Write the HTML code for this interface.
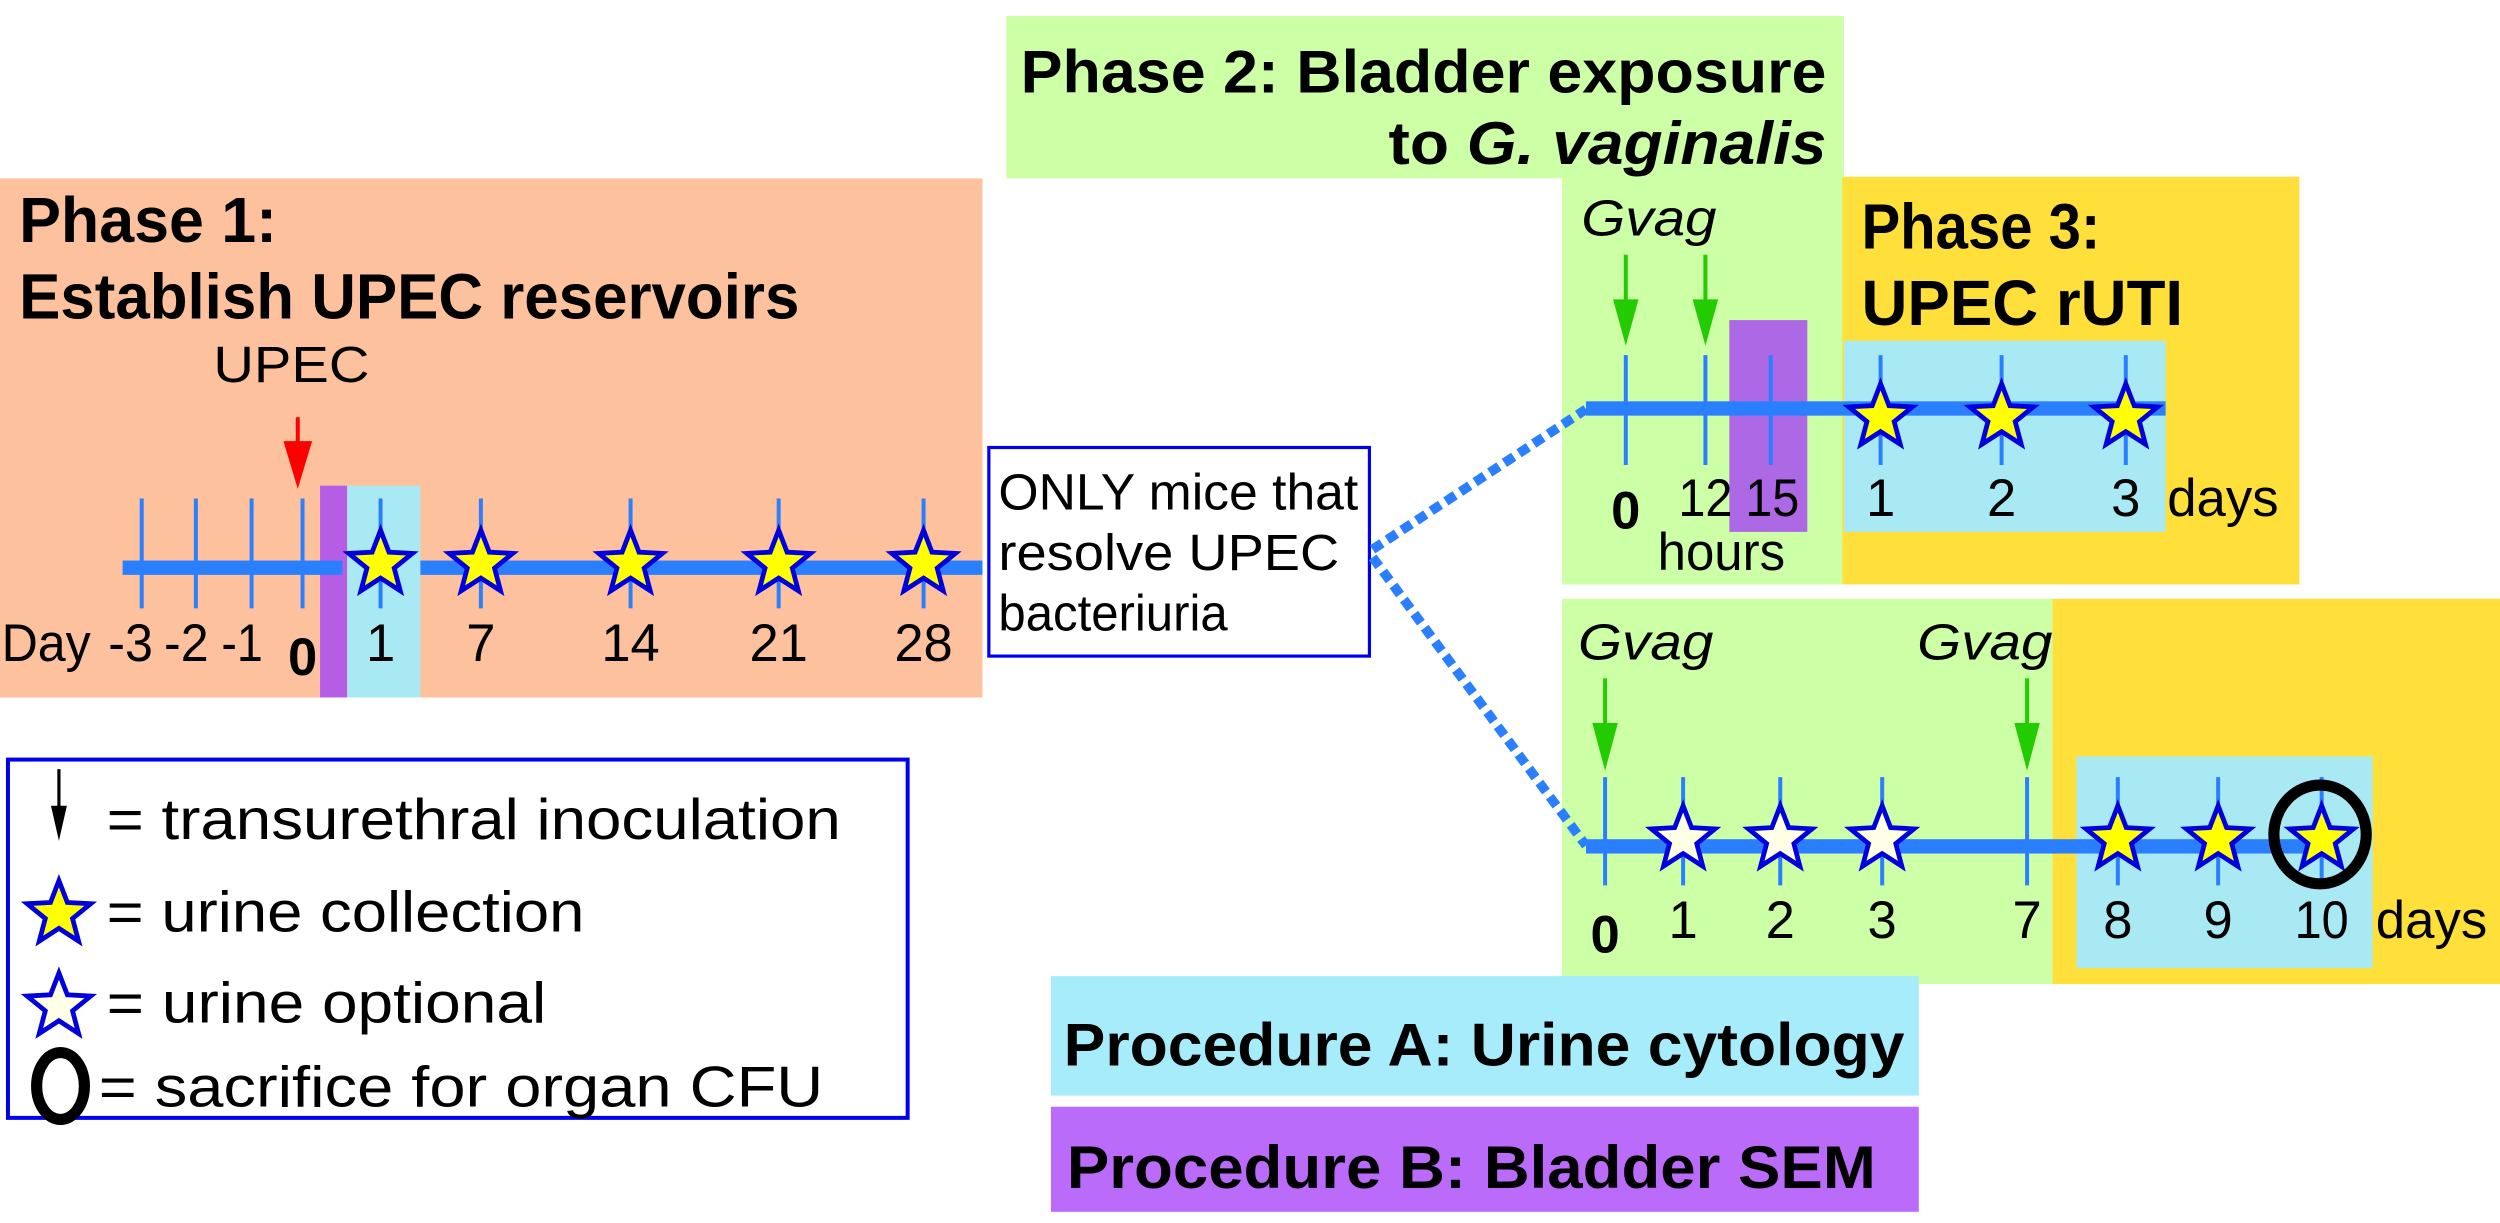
<!DOCTYPE html>
<html><head><meta charset="utf-8"><style>
html,body{margin:0;padding:0;background:#fff}
svg{display:block}
text{font-family:"Liberation Sans",Arial,sans-serif;fill:#000}
.b{font-weight:bold}
</style></head><body>
<svg width="2500" height="1223" viewBox="0 0 1570 768" xmlns="http://www.w3.org/2000/svg">
<defs>
<path id="st" d="M0,-21 L5.29,-7.28 L19.97,-6.49 L8.56,2.78 L12.34,16.99 L0,9 L-12.34,16.99 L-8.56,2.78 L-19.97,-6.49 L-5.29,-7.28Z"/>
</defs>
<!-- Phase 1 -->
<rect x="0" y="112" width="617" height="326" fill="#FEC19D"/>
<text x="12" y="152" class="b" font-size="40" textLength="162" lengthAdjust="spacingAndGlyphs">Phase 1:</text>
<text x="12" y="200" class="b" font-size="40" textLength="490" lengthAdjust="spacingAndGlyphs">Establish UPEC reservoirs</text>
<text x="183" y="240" font-size="32" text-anchor="middle" textLength="98" lengthAdjust="spacingAndGlyphs">UPEC</text>
<line x1="187" y1="262" x2="187" y2="285" stroke="#f00" stroke-width="2.5"/>
<polygon points="178,277 196,277 187,307" fill="#f00"/>
<rect x="201" y="305" width="17" height="133" fill="#B65DE6"/>
<rect x="218" y="305" width="46" height="133" fill="#A8E9F3"/>
<g stroke="#2a7fff" stroke-width="2.5">
<line x1="89" y1="313" x2="89" y2="382"/><line x1="123" y1="313" x2="123" y2="382"/><line x1="158" y1="313" x2="158" y2="382"/><line x1="190" y1="313" x2="190" y2="382"/>
<line x1="239" y1="313" x2="239" y2="382"/><line x1="302" y1="313" x2="302" y2="382"/><line x1="396" y1="313" x2="396" y2="382"/><line x1="489" y1="313" x2="489" y2="382"/><line x1="580" y1="313" x2="580" y2="382"/>
</g>
<rect x="77" y="352" width="138" height="9" fill="#2a7fff"/>
<rect x="264" y="352" width="353" height="9" fill="#2a7fff"/>
<g fill="#ffff00" stroke="#0000dd" stroke-width="3">
<use href="#st" x="239" y="354"/><use href="#st" x="302" y="354"/><use href="#st" x="396" y="354"/><use href="#st" x="489" y="354"/><use href="#st" x="580" y="354"/>
</g>
<g font-size="33" text-anchor="middle">
<text x="29" y="415" textLength="56" lengthAdjust="spacingAndGlyphs">Day</text>
<text x="82" y="415" textLength="28" lengthAdjust="spacingAndGlyphs">-3</text><text x="117" y="415" textLength="28" lengthAdjust="spacingAndGlyphs">-2</text><text x="152" y="415" textLength="26" lengthAdjust="spacingAndGlyphs">-1</text>
<text x="190" y="424" class="b">0</text>
<text x="239" y="415">1</text><text x="302" y="415">7</text><text x="396" y="415">14</text><text x="489" y="415">21</text><text x="580" y="415">28</text>
</g>
<!-- ONLY box -->
<rect x="621" y="281" width="239" height="131" fill="#fff" stroke="#0000ee" stroke-width="2"/>
<g font-size="32">
<text x="627" y="320" textLength="226" lengthAdjust="spacingAndGlyphs">ONLY mice that</text>
<text x="627" y="358" textLength="214" lengthAdjust="spacingAndGlyphs">resolve UPEC</text>
<text x="627" y="396" textLength="144" lengthAdjust="spacingAndGlyphs">bacteriuria</text>
</g>
<!-- Phase 2 header -->
<rect x="632" y="10" width="526" height="102" fill="#CCFFA6"/>
<text x="641" y="58" class="b" font-size="38" textLength="506" lengthAdjust="spacingAndGlyphs">Phase 2: Bladder exposure</text>
<text x="1147" y="103" class="b" font-size="38" text-anchor="end" textLength="275" lengthAdjust="spacingAndGlyphs">to <tspan font-style="italic">G. vaginalis</tspan></text>
<!-- top panels -->
<rect x="981" y="112" width="177" height="255" fill="#CCFFA6"/>
<rect x="1157" y="111" width="287" height="256" fill="#FFE03A"/>
<text x="1169" y="156" class="b" font-size="40" textLength="150" lengthAdjust="spacingAndGlyphs">Phase 3:</text>
<text x="1169" y="204" class="b" font-size="40" textLength="202" lengthAdjust="spacingAndGlyphs">UPEC rUTI</text>
<text x="993" y="148" font-size="32" font-style="italic" textLength="85" lengthAdjust="spacingAndGlyphs">Gvag</text>
<g stroke="#22cc00" stroke-width="2.5"><line x1="1021" y1="160" x2="1021" y2="192"/><line x1="1071" y1="160" x2="1071" y2="192"/></g>
<g fill="#22cc00"><polygon points="1013,188 1029,188 1021,217"/><polygon points="1063,188 1079,188 1071,217"/></g>
<rect x="1086" y="201" width="49" height="133" fill="#AD68E6"/>
<rect x="1158" y="214" width="202" height="120" fill="#A8E9F3"/>
<g stroke="#2a7fff" stroke-width="2.5">
<line x1="1021" y1="223" x2="1021" y2="292"/><line x1="1071" y1="223" x2="1071" y2="292"/><line x1="1112" y1="223" x2="1112" y2="292"/>
<line x1="1181" y1="223" x2="1181" y2="292"/><line x1="1257" y1="223" x2="1257" y2="292"/><line x1="1335" y1="223" x2="1335" y2="292"/>
</g>
<rect x="996" y="252" width="364" height="9" fill="#2a7fff"/>
<g fill="#ffff00" stroke="#0000dd" stroke-width="3">
<use href="#st" x="1181" y="262"/><use href="#st" x="1257" y="262"/><use href="#st" x="1335" y="262"/>
</g>
<g font-size="33" text-anchor="middle">
<text x="1021" y="332" class="b">0</text>
<text x="1071" y="324" textLength="34" lengthAdjust="spacingAndGlyphs">12</text><text x="1113" y="324" textLength="34" lengthAdjust="spacingAndGlyphs">15</text>
<text x="1181" y="324">1</text><text x="1257" y="324">2</text><text x="1335" y="324">3</text>
<text x="1081" y="358" textLength="80" lengthAdjust="spacingAndGlyphs">hours</text>
</g>
<text x="1361" y="324" font-size="33" textLength="70" lengthAdjust="spacingAndGlyphs">days</text>
<!-- bottom panels -->
<rect x="981" y="376" width="309" height="242" fill="#CCFFA6"/>
<rect x="1289" y="376" width="281" height="242" fill="#FFE03A"/>
<rect x="1304" y="475" width="186" height="133" fill="#A8E9F3"/>
<text x="991" y="414" font-size="32" font-style="italic" textLength="85" lengthAdjust="spacingAndGlyphs">Gvag</text>
<text x="1204" y="414" font-size="32" font-style="italic" textLength="85" lengthAdjust="spacingAndGlyphs">Gvag</text>
<g stroke="#22cc00" stroke-width="2.5"><line x1="1008" y1="426" x2="1008" y2="458"/><line x1="1273" y1="426" x2="1273" y2="458"/></g>
<g fill="#22cc00"><polygon points="1000,454 1016,454 1008,484"/><polygon points="1265,454 1281,454 1273,484"/></g>
<g stroke="#2a7fff" stroke-width="2.5">
<line x1="1008" y1="488" x2="1008" y2="556"/><line x1="1057" y1="488" x2="1057" y2="556"/><line x1="1118" y1="488" x2="1118" y2="556"/><line x1="1182" y1="488" x2="1182" y2="556"/>
<line x1="1273" y1="488" x2="1273" y2="556"/><line x1="1330" y1="488" x2="1330" y2="556"/><line x1="1393" y1="488" x2="1393" y2="556"/><line x1="1458" y1="488" x2="1458" y2="556"/>
</g>
<rect x="996" y="527" width="462" height="9" fill="#2a7fff"/>
<g fill="#FFFFE6" stroke="#0000dd" stroke-width="3">
<use href="#st" x="1057" y="527"/><use href="#st" x="1118" y="527"/><use href="#st" x="1182" y="527"/>
</g>
<g fill="#ffff00" stroke="#0000dd" stroke-width="3">
<use href="#st" x="1330" y="527"/><use href="#st" x="1393" y="527"/><use href="#st" x="1458" y="527"/>
</g>
<ellipse cx="1457" cy="524" rx="29" ry="31" fill="none" stroke="#000" stroke-width="7"/>
<g font-size="33" text-anchor="middle">
<text x="1008" y="598" class="b">0</text>
<text x="1057" y="589">1</text><text x="1118" y="589">2</text><text x="1182" y="589">3</text><text x="1273" y="589">7</text>
<text x="1330" y="589">8</text><text x="1393" y="589">9</text><text x="1458" y="589" textLength="34" lengthAdjust="spacingAndGlyphs">10</text>
</g>
<text x="1492" y="589" font-size="33" textLength="70" lengthAdjust="spacingAndGlyphs">days</text>
<!-- dotted connectors -->
<g stroke="#2a7fff" stroke-width="6" stroke-dasharray="7,4" fill="none">
<line x1="862" y1="345" x2="996" y2="257"/>
<line x1="862" y1="350" x2="996" y2="531"/>
</g>
<!-- legend -->
<rect x="5" y="477" width="565" height="225" fill="#fff" stroke="#0000ee" stroke-width="2.5"/>
<line x1="37" y1="483" x2="37" y2="510" stroke="#000" stroke-width="2"/>
<polygon points="32,506 42,506 37,528" fill="#000"/>
<use href="#st" x="37" y="574" fill="#ffff00" stroke="#0000dd" stroke-width="3"/>
<use href="#st" x="37" y="632" fill="#FFFFE6" stroke="#0000dd" stroke-width="3"/>
<ellipse cx="38" cy="682" rx="15" ry="21" fill="none" stroke="#000" stroke-width="7"/>
<g font-size="36">
<text x="67" y="527" textLength="461" lengthAdjust="spacingAndGlyphs">= transurethral inoculation</text>
<text x="67" y="585" textLength="300" lengthAdjust="spacingAndGlyphs">= urine collection</text>
<text x="67" y="642" textLength="276" lengthAdjust="spacingAndGlyphs">= urine optional</text>
<text x="62" y="695" textLength="455" lengthAdjust="spacingAndGlyphs">= sacrifice for organ CFU</text>
</g>
<!-- procedures -->
<rect x="660" y="613" width="545" height="75" fill="#A6ECFB"/>
<text x="668" y="669" class="b" font-size="38" textLength="528" lengthAdjust="spacingAndGlyphs">Procedure A: Urine cytology</text>
<rect x="660" y="695" width="545" height="66" fill="#BB6BFA"/>
<text x="670" y="746" class="b" font-size="38" textLength="508" lengthAdjust="spacingAndGlyphs">Procedure B: Bladder SEM</text>
</svg>
</body></html>
